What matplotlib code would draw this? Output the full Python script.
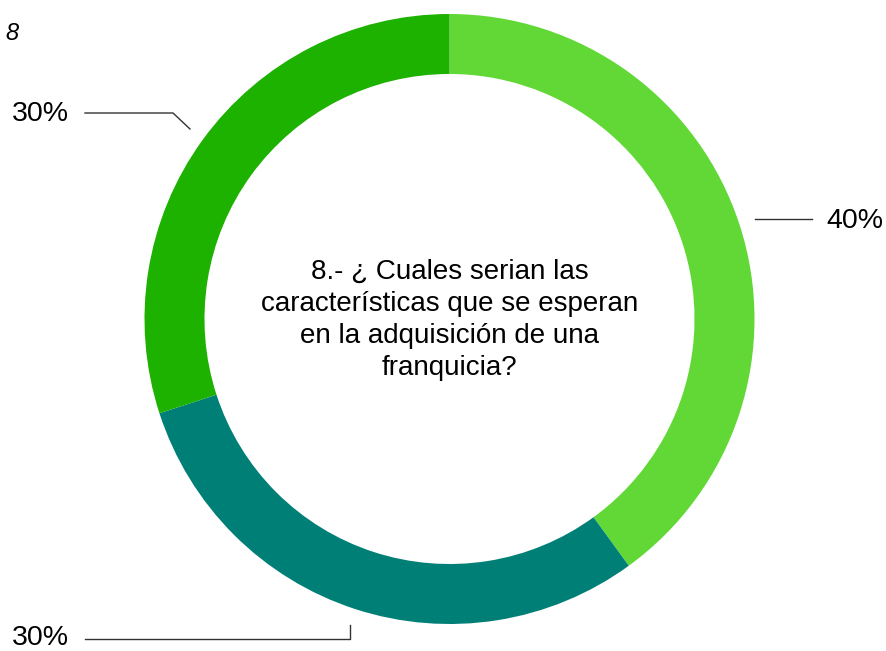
import matplotlib.pyplot as plt

plt.rcParams["font.family"] = ["Liberation Sans", "DejaVu Sans"]

# Answers to question 8 (share of respondents)
shares = [40, 30, 30]
labels = ["40%", "30%", "30%"]
colors = ["#61d836", "#007f77", "#1db100"]
question = "8.- ¿ Cuales serian las\ncaracterísticas que se esperan\nen la adquisición de una\nfranquicia?"

W, H = 886, 651
fig = plt.figure(figsize=(W / 100, H / 100), dpi=100)
ax = fig.add_axes([0, 0, 1, 1])

cx, cy = 449.5, H - 319
r_out = 305
ring = 60

ax.pie(shares, colors=colors, startangle=90, counterclock=False,
       radius=r_out, center=(cx, cy), frame=True,
       wedgeprops=dict(width=ring, linewidth=0))
ax.set_xlim(0, W)
ax.set_ylim(0, H)
ax.set_aspect("equal")
ax.axis("off")

ax.text(cx, cy - 1, question, ha="center", va="center", fontsize=20,
        linespacing=1.3)

# leader lines and labels
line_kw = dict(color="#333333", linewidth=1.0)
ax.plot([755, 812], [H - 219, H - 219], **line_kw)
ax.text(826, H - 221, labels[0], ha="left", va="center", fontsize=20.5)

ax.plot([85, 350, 350], [H - 639, H - 639, H - 625], **line_kw)
ax.text(12, H - 638, labels[1], ha="left", va="center", fontsize=20.5)

ax.plot([85, 173, 190], [H - 113, H - 113, H - 129], **line_kw)
ax.text(12, H - 114, labels[2], ha="left", va="center", fontsize=20.5)

ax.text(5, H - 33, "8", ha="left", va="center", fontsize=17, style="italic")

fig.savefig("out.png", dpi=100)
